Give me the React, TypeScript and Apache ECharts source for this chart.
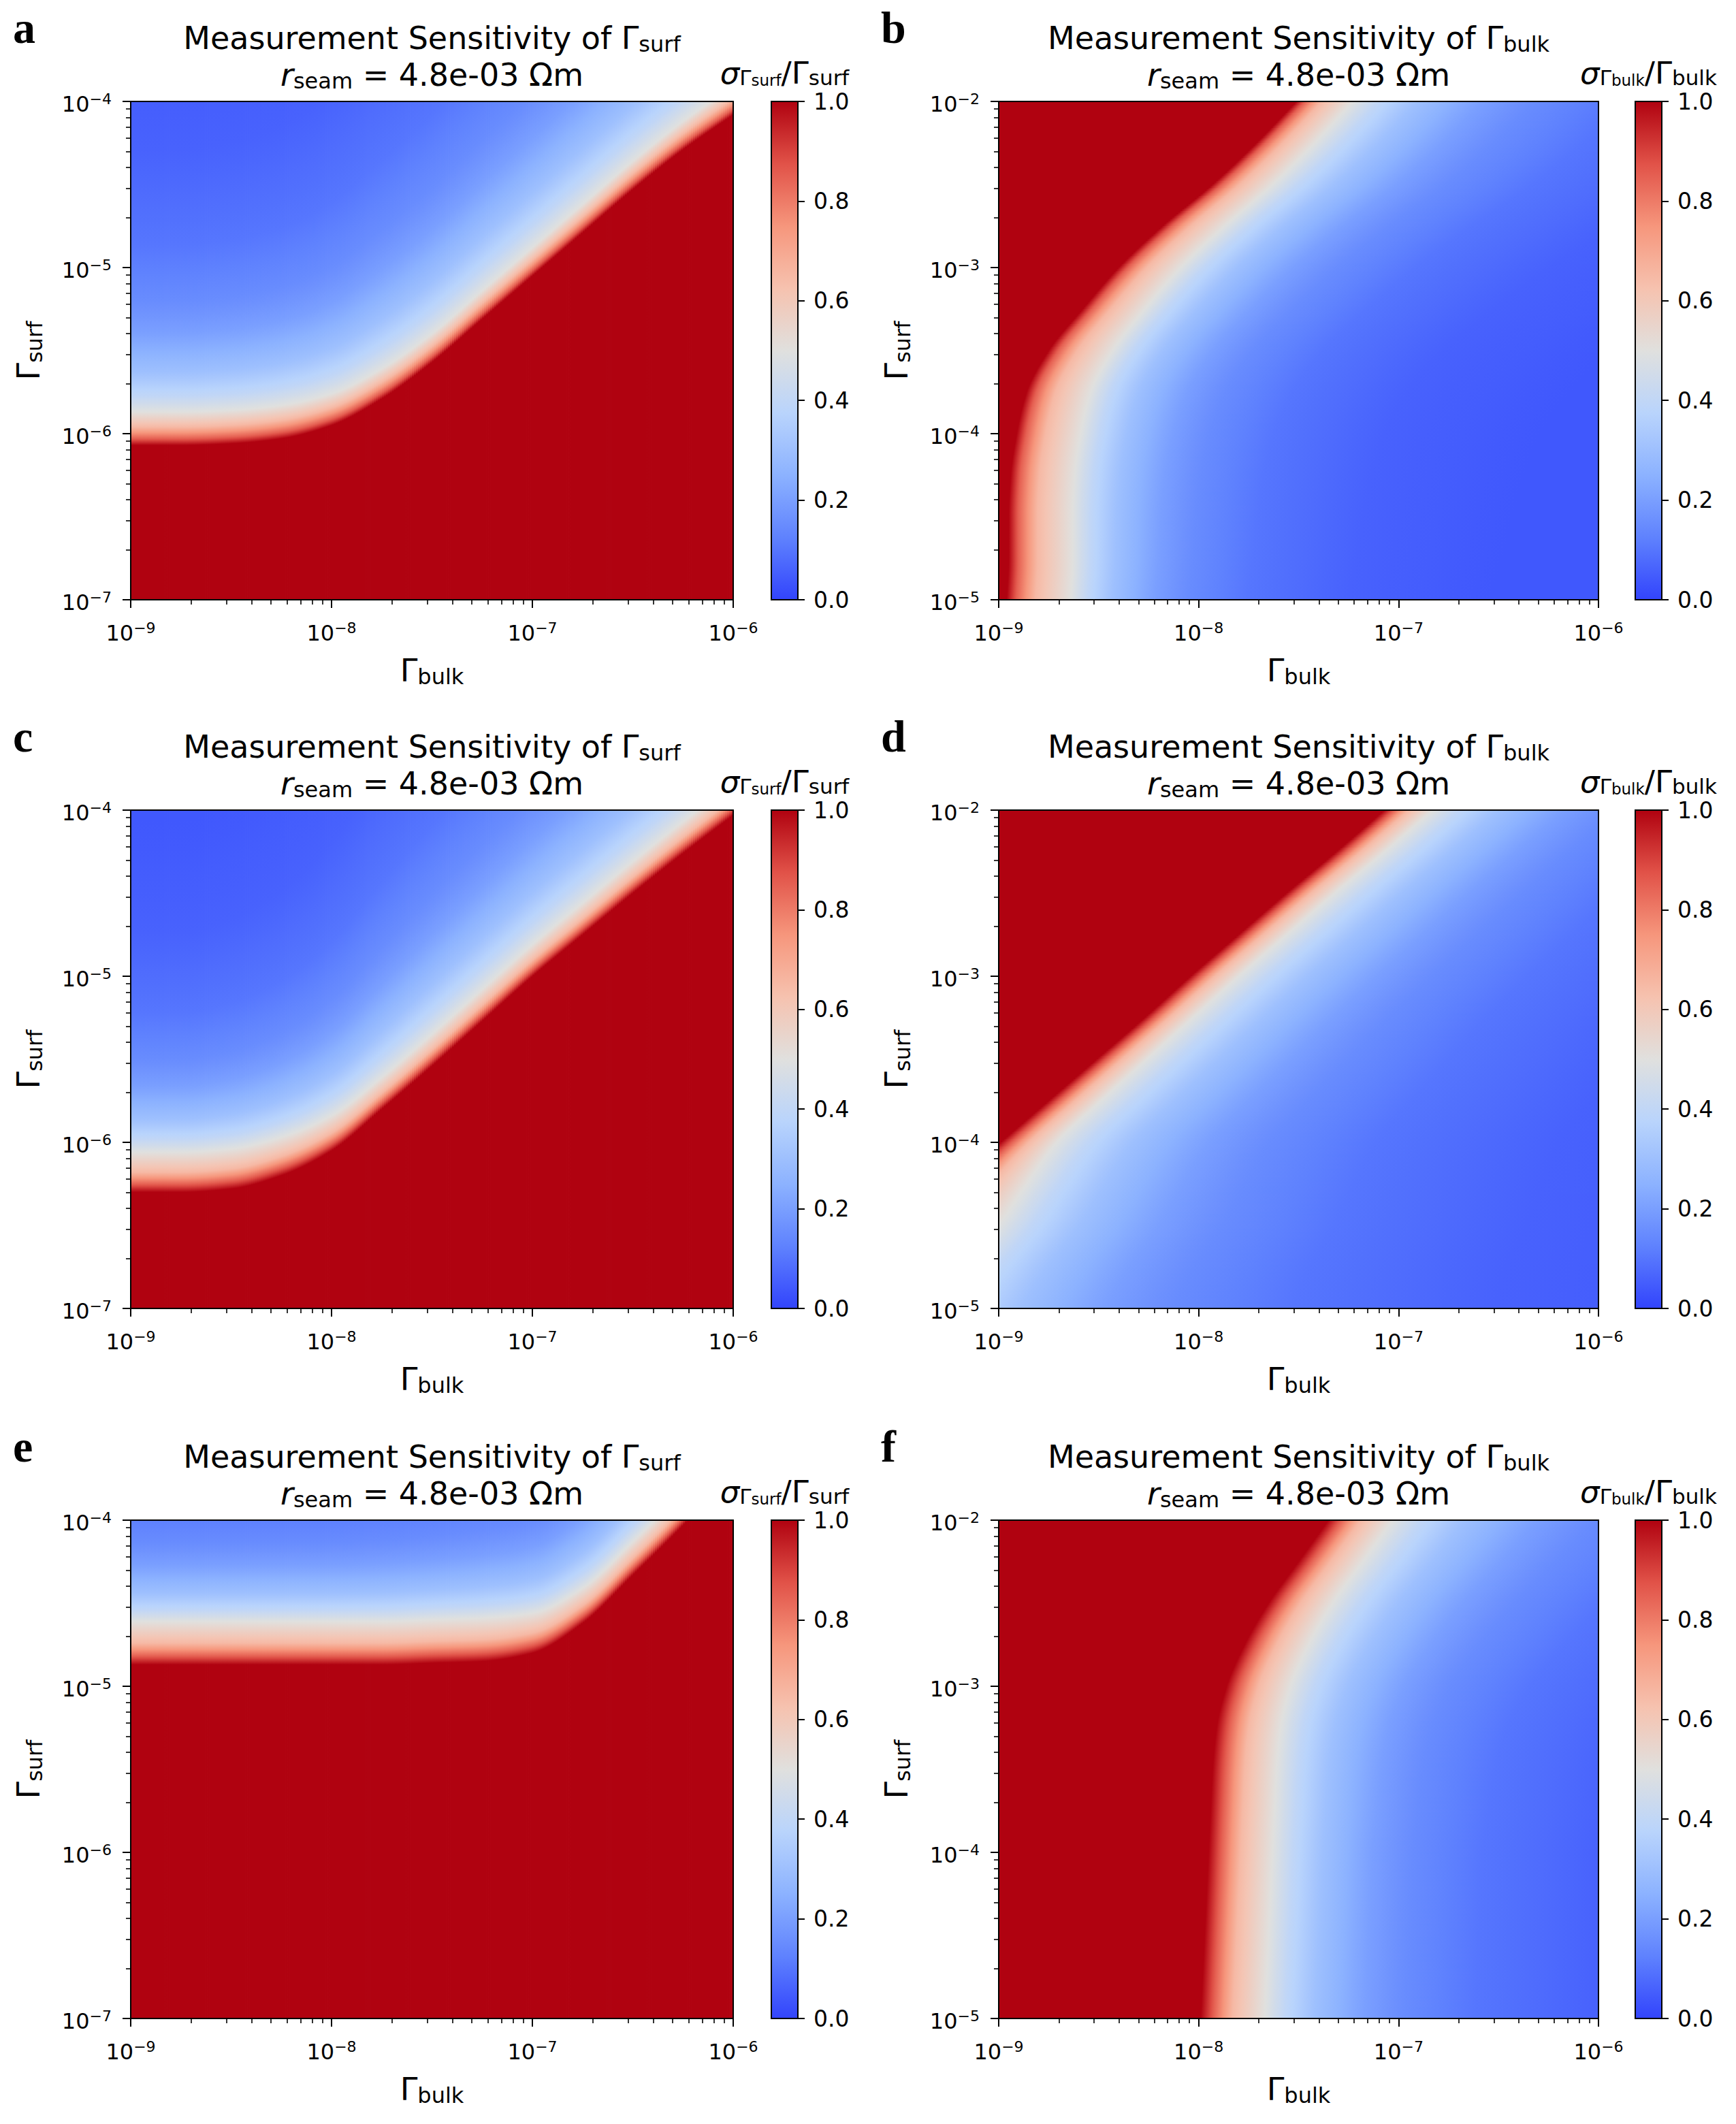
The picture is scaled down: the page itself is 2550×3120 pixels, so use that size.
import React, { useEffect, useRef } from 'react';
import * as echarts from 'echarts';

// ---------------- data ----------------
// sample positions: log10(Γbulk) columns for panels a, c, e ; log10(Γsurf) rows for panels b, d, f
const bulkSamples = [-9, -8.75, -8.5, -8.25, -8, -7.75, -7.5, -7.25, -7, -6.75, -6.5, -6.25, -6];
const surfSamples = [-5, -4.75, -4.5, -4.25, -4, -3.75, -3.5, -3.25, -3, -2.75, -2.5, -2.25, -2];

// panels a, c, e : log10(Γsurf) per Γbulk column where σ/Γ = 1 (edge), = 0.5 (mid), = 0.2 (far)
const aEdge = [-6.07, -6.07, -6.06, -6.03, -5.95, -5.79, -5.57, -5.31, -5.05, -4.79, -4.53, -4.29, -4.08];
const aMid = [-5.87, -5.87, -5.86, -5.83, -5.76, -5.61, -5.40, -5.14, -4.88, -4.62, -4.36, -4.12, -3.91];
const aFar = [-5.39, -5.39, -5.37, -5.32, -5.21, -5.01, -4.77, -4.49, -4.22, -3.95, -3.69, -3.45, -3.24];
const cEdge = [-6.30, -6.30, -6.28, -6.20, -6.05, -5.80, -5.54, -5.27, -5.00, -4.75, -4.50, -4.26, -4.03];
const cMid = [-6.06, -6.06, -6.04, -5.97, -5.84, -5.61, -5.35, -5.08, -4.81, -4.56, -4.31, -4.07, -3.84];
const cFar = [-5.66, -5.66, -5.62, -5.52, -5.34, -5.05, -4.75, -4.46, -4.18, -3.92, -3.67, -3.43, -3.20];
const eEdge = [-4.87, -4.87, -4.87, -4.87, -4.87, -4.87, -4.86, -4.85, -4.80, -4.62, -4.33, -4.03, -3.70];
const eMid = [-4.61, -4.61, -4.61, -4.61, -4.61, -4.61, -4.60, -4.59, -4.56, -4.41, -4.13, -3.83, -3.50];
const eFar = [-4.27, -4.27, -4.27, -4.27, -4.27, -4.26, -4.24, -4.21, -4.16, -3.98, -3.68, -3.38, -3.05];

// panels b, d, f : log10(Γbulk) per Γsurf row where σ/Γ = 1 (edge), = 0.5 (mid), = 0.2 (far)
const bEdge = [-8.96, -8.95, -8.95, -8.94, -8.91, -8.86, -8.75, -8.58, -8.40, -8.18, -7.93, -7.71, -7.51];
const bMid = [-8.64, -8.63, -8.63, -8.62, -8.59, -8.54, -8.43, -8.27, -8.09, -7.87, -7.63, -7.42, -7.23];
const bFar = [-8.22, -8.20, -8.19, -8.17, -8.13, -8.06, -7.93, -7.74, -7.53, -7.28, -7.01, -6.78, -6.58];
const dEdge = [-9.92, -9.70, -9.47, -9.23, -8.99, -8.75, -8.51, -8.27, -8.04, -7.80, -7.56, -7.31, -7.07];
const dMid = [-9.32, -9.17, -9.00, -8.86, -8.71, -8.49, -8.26, -8.03, -7.80, -7.56, -7.32, -7.07, -6.83];
const dFar = [-8.47, -8.35, -8.20, -8.08, -7.95, -7.75, -7.54, -7.33, -7.11, -6.88, -6.65, -6.41, -6.17];
const fEdge = [-7.99, -7.98, -7.97, -7.96, -7.95, -7.94, -7.93, -7.91, -7.86, -7.77, -7.65, -7.50, -7.35];
const fMid = [-7.67, -7.66, -7.65, -7.64, -7.63, -7.62, -7.61, -7.59, -7.54, -7.45, -7.33, -7.18, -7.03];
const fFar = [-7.17, -7.16, -7.15, -7.14, -7.13, -7.11, -7.09, -7.05, -6.97, -6.84, -6.68, -6.49, -6.31];

// σ/Γ levels across the band: red side (edge → mid) and blue side (mid → far and beyond)
const redLevels = [1, 0.85, 0.65, 0.5];
const aRedDepth = [0, 0.2, 0.55, 1];
const bRedDepth = [0, 0.15, 0.45, 1];
const cdefRedDepth = [0, 0.2, 0.5, 1];
const blueLevels = [0.5, 0.4, 0.3, 0.2, 0.15, 0.1, 0.06, 0.04];
const blueDepth = [0, 0.2, 0.5, 1, 1.4, 2.1, 3.3, 5];

// tick labels
const bulkTicks = [-9, -8, -7, -6];
const surfTicksLow = [-7, -6, -5, -4];
const surfTicksHigh = [-5, -4, -3, -2];
const cbarTicks = [0, 0.2, 0.4, 0.6, 0.8, 1.0];

// ---------------- styles ----------------
const FONT = 'DejaVu Sans';
const INK = '#000';
const cmapPos = [0, 0.125, 0.25, 0.375, 0.5, 0.625, 0.75, 0.875, 1];
const cmapRGB = [
  [50, 68, 252], [95, 130, 254], [140, 178, 255], [185, 212, 252], [224, 224, 222],
  [246, 194, 175], [246, 150, 124], [225, 82, 72], [176, 2, 16],
];

function cmap(v: number): string {
  const x = Math.max(0, Math.min(1, v));
  let k = 0;
  while (k < cmapPos.length - 2 && x > cmapPos[k + 1]) k++;
  const t = (x - cmapPos[k]) / (cmapPos[k + 1] - cmapPos[k]);
  const c = cmapRGB[k].map((a, j) => Math.round(a + (cmapRGB[k + 1][j] - a) * t));
  return `rgb(${c[0]},${c[1]},${c[2]})`;
}

function piece(u: number, depth: number[], levels: number[]): number {
  if (u <= depth[0]) return levels[0];
  for (let k = 1; k < depth.length; k++) {
    if (u <= depth[k]) {
      const t = (u - depth[k - 1]) / (depth[k] - depth[k - 1]);
      return levels[k - 1] + (levels[k] - levels[k - 1]) * t;
    }
  }
  return levels[levels.length - 1];
}

function levelAt(p: number, edge: number, mid: number, far: number, redDepth: number[]) {
  if (p <= edge) return 1;
  if (p <= mid) return piece((p - edge) / (mid - edge), redDepth, redLevels);
  return piece((p - mid) / (far - mid), blueDepth, blueLevels);
}

function gradientStops(edge: number, mid: number, far: number, lo: number, hi: number, redDepth: number[]) {
  const ps = [lo, hi];
  const addSeg = (a: number, b: number) => {
    for (let s = 0; s < 4; s++) ps.push(a + ((b - a) * s) / 4);
  };
  for (let k = 0; k < redDepth.length - 1; k++) addSeg(edge + redDepth[k] * (mid - edge), edge + redDepth[k + 1] * (mid - edge));
  for (let k = 0; k < blueDepth.length - 1; k++) addSeg(mid + blueDepth[k] * (far - mid), mid + blueDepth[k + 1] * (far - mid));
  ps.push(mid + blueDepth[blueDepth.length - 1] * (far - mid));
  const pts = ps.filter((p) => p >= lo && p <= hi).sort((x, y) => x - y);
  return pts.map((p) => ({ offset: (p - lo) / (hi - lo), color: cmap(levelAt(p, edge, mid, far, redDepth)) }));
}

// monotone cubic (Fritsch–Carlson) slopes, so the drawn contours pass smoothly through the read samples
function slopes(xs: number[], ys: number[]) {
  const n = xs.length;
  const d: number[] = [];
  for (let i = 0; i < n - 1; i++) d.push((ys[i + 1] - ys[i]) / (xs[i + 1] - xs[i]));
  const m: number[] = new Array(n).fill(0);
  m[0] = d[0];
  m[n - 1] = d[n - 2];
  for (let i = 1; i < n - 1; i++) {
    if (d[i - 1] * d[i] <= 0) m[i] = 0;
    else {
      const h0 = xs[i] - xs[i - 1], h1 = xs[i + 1] - xs[i];
      const w1 = 2 * h1 + h0, w2 = h1 + 2 * h0;
      m[i] = (w1 + w2) / (w1 / d[i - 1] + w2 / d[i]);
    }
  }
  return m;
}
function hermite(xs: number[], ys: number[], m: number[], i: number, t: number) {
  const h = xs[i + 1] - xs[i];
  const t2 = t * t, t3 = t2 * t;
  return (2 * t3 - 3 * t2 + 1) * ys[i] + (t3 - 2 * t2 + t) * h * m[i] + (-2 * t3 + 3 * t2) * ys[i + 1] + (t3 - t2) * h * m[i + 1];
}

const SUB = 25;

type Panel = {
  letter: string; kind: 'col' | 'row'; left: number; top: number; width: number; height: number; cb: number;
  yMin: number; yMax: number; pos: number[]; edge: number[]; mid: number[]; far: number[]; red: number[]; yTicks: number[];
};

const H = 732;
const panels: Panel[] = [
  { letter: 'a', kind: 'col', left: 192, top: 149, width: 885, height: H, cb: 1133, yMin: -7, yMax: -4, pos: bulkSamples, edge: aEdge, mid: aMid, far: aFar, red: aRedDepth, yTicks: surfTicksLow },
  { letter: 'b', kind: 'row', left: 1467, top: 149, width: 881, height: H, cb: 2402, yMin: -5, yMax: -2, pos: surfSamples, edge: bEdge, mid: bMid, far: bFar, red: bRedDepth, yTicks: surfTicksHigh },
  { letter: 'c', kind: 'col', left: 192, top: 1190, width: 885, height: H, cb: 1133, yMin: -7, yMax: -4, pos: bulkSamples, edge: cEdge, mid: cMid, far: cFar, red: cdefRedDepth, yTicks: surfTicksLow },
  { letter: 'd', kind: 'row', left: 1467, top: 1190, width: 881, height: H, cb: 2402, yMin: -5, yMax: -2, pos: surfSamples, edge: dEdge, mid: dMid, far: dFar, red: cdefRedDepth, yTicks: surfTicksHigh },
  { letter: 'e', kind: 'col', left: 192, top: 2233, width: 885, height: H, cb: 1133, yMin: -7, yMax: -4, pos: bulkSamples, edge: eEdge, mid: eMid, far: eFar, red: cdefRedDepth, yTicks: surfTicksLow },
  { letter: 'f', kind: 'row', left: 1467, top: 2233, width: 881, height: H, cb: 2402, yMin: -5, yMax: -2, pos: surfSamples, edge: fEdge, mid: fMid, far: fFar, red: cdefRedDepth, yTicks: surfTicksHigh },
];

const X_MIN = bulkTicks[0];
const X_MAX = bulkTicks[bulkTicks.length - 1];

function makeRenderItem(P: Panel) {
  const n = P.pos.length;
  const mE = slopes(P.pos, P.edge), mM = slopes(P.pos, P.mid), mF = slopes(P.pos, P.far);
  return (params: any, api: any) => {
    const i = params.dataIndex;
    if (i >= n - 1) return null;
    const p0 = P.kind === 'col' ? api.value(0) : api.value(1);
    const p1 = P.pos[i + 1];
    const children: any[] = [];
    for (let s = 0; s < SUB; s++) {
      const q0 = p0 + ((p1 - p0) * s) / SUB;
      const q1 = p0 + ((p1 - p0) * (s + 1)) / SUB;
      const tc = (s + 0.5) / SUB;
      const e = hermite(P.pos, P.edge, mE, i, tc);
      const m = hermite(P.pos, P.mid, mM, i, tc);
      const f = hermite(P.pos, P.far, mF, i, tc);
      if (P.kind === 'col') {
        const tl = api.coord([q0, P.yMax]);
        const br = api.coord([q1, P.yMin]);
        children.push({
          type: 'rect',
          shape: { x: tl[0], y: tl[1], width: br[0] - tl[0] + 0.8, height: br[1] - tl[1] },
          style: { fill: new echarts.graphic.LinearGradient(0, 1, 0, 0, gradientStops(e, m, f, P.yMin, P.yMax, P.red)) },
        });
      } else {
        const tl = api.coord([X_MIN, q1]);
        const br = api.coord([X_MAX, q0]);
        children.push({
          type: 'rect',
          shape: { x: tl[0], y: tl[1] - 0.8, width: br[0] - tl[0], height: br[1] - tl[1] + 0.8 },
          style: { fill: new echarts.graphic.LinearGradient(0, 0, 1, 0, gradientStops(e, m, f, X_MIN, X_MAX, P.red)) },
        });
      }
    }
    return { type: 'group', children };
  };
}

function minorBetween(lo: number, hi: number) {
  const out: number[] = [];
  for (let n = lo; n < hi; n++) for (let k = 2; k <= 9; k++) out.push(n + Math.log10(k));
  return out;
}

const lineStyle = { color: INK, width: 2 };
const powRich = {
  b: { fontSize: 32, lineHeight: 38, fontFamily: FONT, color: INK },
  s: { fontSize: 22, lineHeight: 20, verticalAlign: 'top', fontFamily: FONT, color: INK },
};
const powFormatter = (v: number) => `{b|10}{s|\u2212${Math.round(Math.abs(v))}}`;

function majorAxis(gi: number, min: number, max: number, position: string, margin: number, padding: number[]) {
  return {
    gridIndex: gi, type: 'value', min, max, interval: 1, position, z: 10,
    axisLine: { show: true, onZero: false, lineStyle },
    axisTick: { show: true, length: 12, lineStyle },
    axisLabel: { show: true, margin, padding, formatter: powFormatter, rich: powRich },
    splitLine: { show: false },
  };
}
function minorAxis(gi: number, min: number, max: number, position: string, values: number[]) {
  return {
    gridIndex: gi, type: 'value', min, max, position, z: 10,
    axisLine: { show: false, onZero: false },
    axisTick: { show: true, length: 7, customValues: values, lineStyle: { color: INK, width: 1.6 } },
    axisLabel: { show: false },
    splitLine: { show: false },
  };
}
function spineAxis(gi: number, min: number, max: number, position: string) {
  return {
    gridIndex: gi, type: 'value', min, max, position, z: 10,
    axisLine: { show: true, onZero: false, lineStyle },
    axisTick: { show: false },
    axisLabel: { show: false },
    splitLine: { show: false },
  };
}

// base font F; subscript sits ~7px below the baseline, second-level subscript ~6px lower again
function richText(x: number, y: number, text: string, L: number, F = 46, rotation = 0) {
  const S = Math.round(F * 0.7);
  const SS = Math.round(F * 0.5);
  const cb = 0.346 * F, cs = 0.346 * S, css = 0.346 * SS;
  const hSub = L - 2 * (cb + 7 - cs);
  const hSS = Math.max(2, L - 2 * (cb + 13 - css));
  return {
    type: 'text', x, y, rotation, silent: true,
    style: {
      text, fontSize: F, fontFamily: FONT, lineHeight: L, fill: INK, align: 'center', verticalAlign: 'middle',
      rich: {
        sub: { fontSize: S, lineHeight: hSub, verticalAlign: 'bottom', fontFamily: FONT, fill: INK },
        ss: { fontSize: SS, lineHeight: hSS, verticalAlign: 'bottom', fontFamily: FONT, fill: INK },
        it: { fontSize: F, lineHeight: L, fontStyle: 'italic', fontFamily: FONT, fill: INK },
      },
    },
  };
}

function buildOption() {
  const grid: any[] = [];
  const xAxis: any[] = [];
  const yAxis: any[] = [];
  const series: any[] = [];
  const graphic: any[] = [];
  const minorX = minorBetween(X_MIN, X_MAX);

  panels.forEach((P) => {
    const gi = grid.length;
    grid.push({ left: P.left, top: P.top, width: P.width, height: P.height, containLabel: false, outerBoundsMode: 'none' });
    const xi = xAxis.length;
    xAxis.push(
      majorAxis(gi, X_MIN, X_MAX, 'bottom', 30, [0, 0, 0, 0]),
      minorAxis(gi, X_MIN, X_MAX, 'bottom', minorX),
      spineAxis(gi, X_MIN, X_MAX, 'top'),
    );
    const yi = yAxis.length;
    yAxis.push(
      majorAxis(gi, P.yTicks[0], P.yTicks[P.yTicks.length - 1], 'left', 28, [8, 0, 0, 0]),
      minorAxis(gi, P.yMin, P.yMax, 'left', minorBetween(P.yMin, P.yMax)),
      spineAxis(gi, P.yMin, P.yMax, 'right'),
    );
    const data = P.pos.map((p, i) => (P.kind === 'col' ? [p, P.edge[i], P.mid[i], P.far[i]] : [P.edge[i], p, P.mid[i], P.far[i]]));
    series.push({
      type: 'custom', xAxisIndex: xi, yAxisIndex: yi, clip: true, silent: true, z: 2,
      encode: { x: 0, y: 1 }, data, renderItem: makeRenderItem(P),
    });

    // colour bar
    const cg = grid.length;
    grid.push({ left: P.cb, top: P.top, width: 39, height: P.height, containLabel: false, outerBoundsMode: 'none' });
    const cxi = xAxis.length;
    xAxis.push({ gridIndex: cg, type: 'value', min: 0, max: 1, show: false });
    const cyi = yAxis.length;
    yAxis.push({
      gridIndex: cg, type: 'value', min: cbarTicks[0], max: cbarTicks[cbarTicks.length - 1], interval: 0.2, position: 'right', z: 10,
      axisLine: { show: false, onZero: false },
      axisTick: { show: true, length: 10, lineStyle },
      axisLabel: {
        show: true, margin: 23, padding: [8, 0, 0, 0], fontSize: 33, lineHeight: 30, fontFamily: FONT, color: INK,
        formatter: (v: number) => v.toFixed(1),
      },
      splitLine: { show: false },
    });
    series.push({
      type: 'custom', xAxisIndex: cxi, yAxisIndex: cyi, silent: true, z: 3,
      data: [[0, 0]],
      renderItem: (_p: any, api: any) => {
        const tl = api.coord([0, 1]);
        const br = api.coord([1, 0]);
        return {
          type: 'rect',
          shape: { x: tl[0], y: tl[1], width: br[0] - tl[0], height: br[1] - tl[1] },
          style: {
            fill: new echarts.graphic.LinearGradient(0, 1, 0, 0, cmapPos.map((o) => ({ offset: o, color: cmap(o) }))),
            stroke: INK, lineWidth: 2,
          },
        };
      },
    });

    // texts
    const off = P.top - 149;
    const cx = P.left + P.width / 2;
    const qty = P.kind === 'col' ? 'surf' : 'bulk';
    graphic.push(
      {
        type: 'text', x: P.left - 173, y: 40 + off, silent: true,
        style: {
          text: `{l|${P.letter}}`, fill: INK, align: 'left', verticalAlign: 'middle',
          rich: { l: { fontSize: 66, fontWeight: 'bold', fontFamily: 'Liberation Serif', lineHeight: 56, fill: INK } },
        },
      },
      richText(cx, 56 + off, `Measurement Sensitivity of \u0393{sub|${qty}}`, 50),
      richText(cx, 110 + off, `{it|r}{sub|seam} = 4.8e-03 \u03A9m`, 50),
      richText(P.cb + 19.5, 107 + off, `{it|\u03C3}{sub|\u0393}{ss|${qty}}/\u0393{sub|${qty}}`, 44, 45),
      richText(cx, 985 + off, `\u0393{sub|bulk}`, 50),
      richText(P.left - 150, P.top + P.height / 2, `\u0393{sub|surf}`, 50, 46, Math.PI / 2),
    );
  });

  return {
    animation: false,
    backgroundColor: '#fff',
    textStyle: { fontFamily: FONT },
    grid, xAxis, yAxis, series, graphic,
  };
}

export default function App() {
  const ref = useRef<HTMLDivElement>(null);
  useEffect(() => {
    if (!ref.current) return;
    const chart = echarts.init(ref.current, undefined, { renderer: 'svg' });
    chart.setOption(buildOption() as any);
    return () => chart.dispose();
  }, []);
  return <div ref={ref} style={{ position: 'absolute', left: 0, top: 0, width: 2550, height: 3120 }} />;
}
